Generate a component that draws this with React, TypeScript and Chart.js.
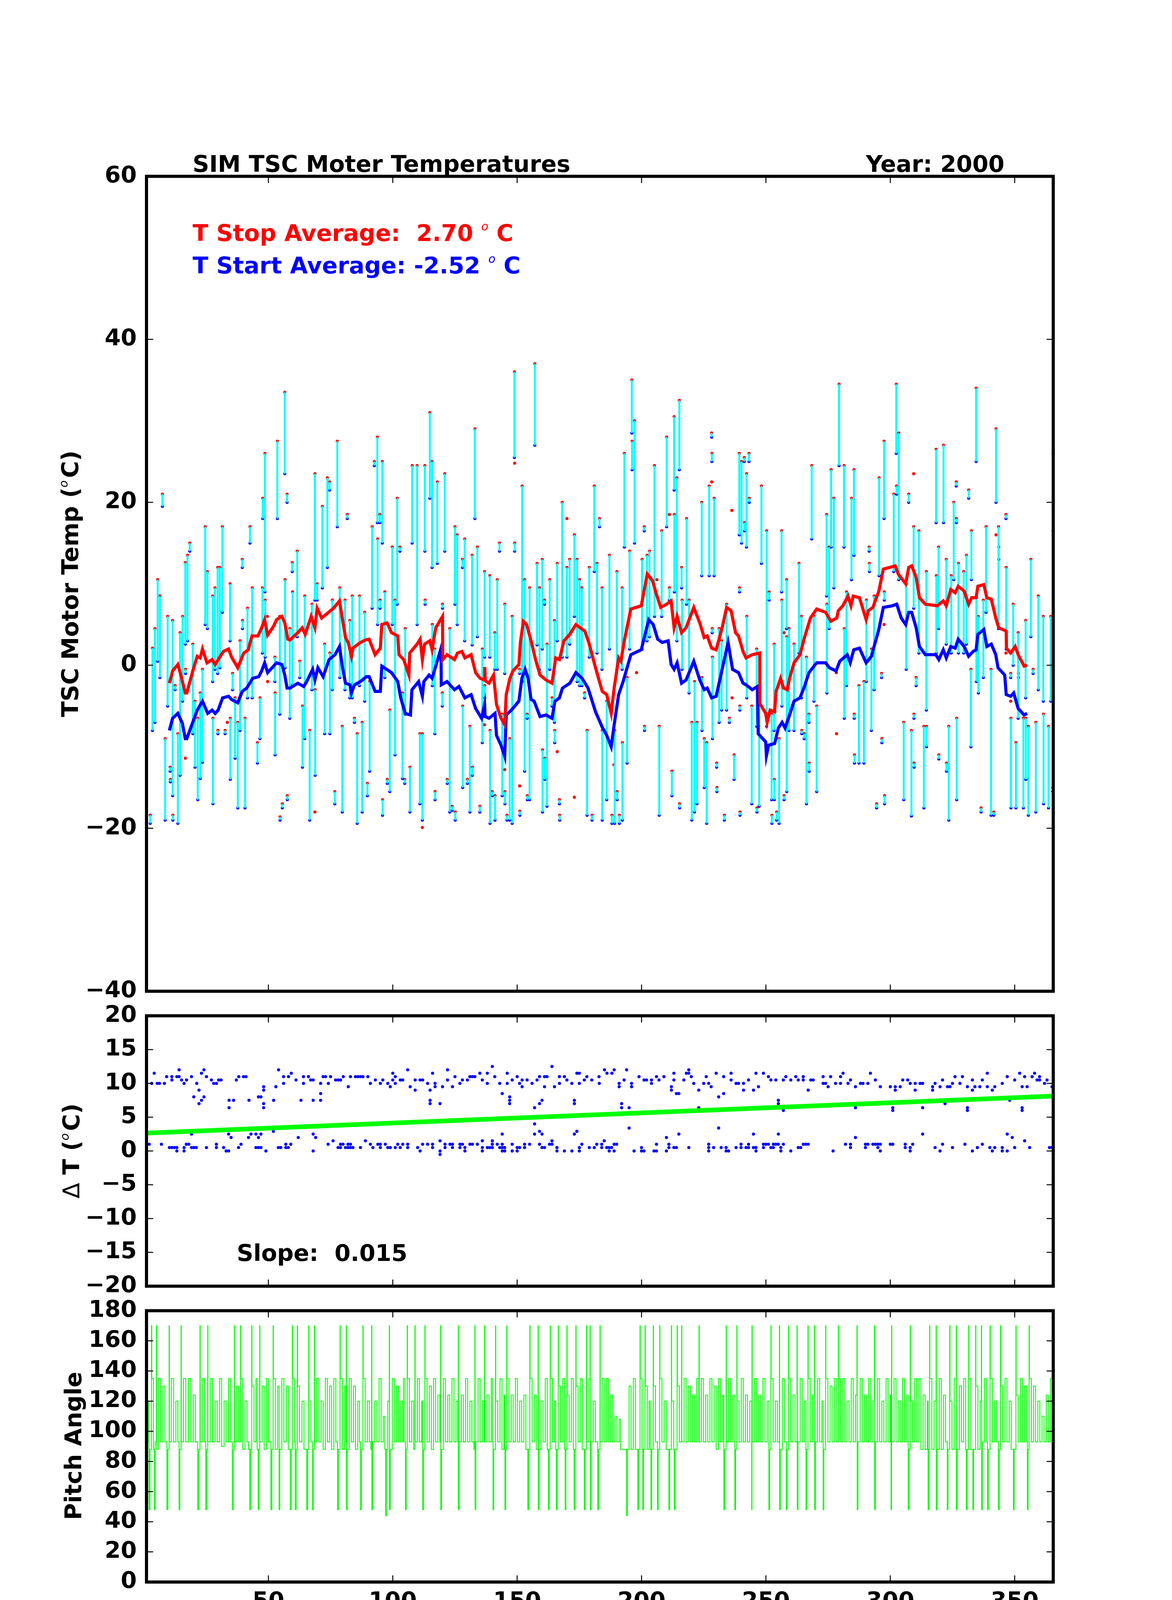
import React, { useEffect, useRef } from "react";
import { Chart, registerables } from "chart.js";

Chart.register(...registerables);

// ---------------- data ----------------
const xTicks = [50, 100, 150, 200, 250, 300, 350];
const tempTicks = [-40, -20, 0, 20, 40, 60];
const dtTicks = [-20, -15, -10, -5, 0, 5, 10, 15, 20];
const pitchTicks = [0, 20, 40, 60, 80, 100, 120, 140, 160, 180];

// [yday, T start, T stop]
const tscSegments: [number, number, number][] = [
  [2.5, -19.4, -18.4], [3.4, -8.0, 2.1], [4.4, -7.0, 4.5], [5.5, 0.5, 10.5], [6.4, -1.5, 8.5],
  [7.4, 19.5, 21.0], [8.5, -19.0, -9.0], [9.5, -5.0, 6.0], [10.5, -13.0, -12.5], [10.6, -14.3, -14.0],
  [11.5, -16.0, 5.5], [11.6, -19.0, -18.4], [12.5, -3.0, -2.5], [13.6, -19.4, -8.4], [14.5, -13.5, 4.0],
  [15.5, -4.4, 6.0], [16.6, 2.6, 12.6], [16.7, -1.0, -0.5], [17.5, 3.0, 13.5], [18.4, 14.0, 15.0],
  [19.6, -8.4, 2.6], [20.5, -12.5, -4.4], [21.6, -16.5, -6.5], [22.6, -13.9, -3.4], [23.5, -11.9, -0.5],
  [24.6, 5.0, 17.0], [25.5, 4.5, 11.5], [27.6, -2.0, 8.5], [27.7, -17.0, -6.5], [28.5, -0.5, 9.5],
  [29.6, -1.0, 12.0], [29.7, -8.4, -8.0], [30.5, -0.3, 12.0], [31.5, 6.5, 17.0], [32.6, -8.4, -8.0],
  [34.6, 3.0, 10.0], [34.7, -14.0, -6.5], [35.6, -3.0, -1.0], [36.6, -11.4, -4.0], [37.7, -17.5, -7.0],
  [38.6, -8.0, 3.0], [39.5, 12.0, 13.0], [39.6, 4.5, 5.5], [40.6, -17.5, -6.5], [41.6, -4.0, 7.0],
  [42.6, 15.0, 17.0], [43.5, -4.0, 9.5], [45.6, -12.0, -9.5], [46.6, -9.0, -4.0], [47.6, 1.5, 9.5],
  [47.7, 18.0, 20.5], [48.6, 9.0, 26.0], [48.7, 1.0, 8.0], [52.6, -2.0, 1.0], [52.7, -11.0, -3.4],
  [53.6, 18.0, 27.5], [54.6, -6.0, 6.0], [54.7, -19.0, -18.6], [55.6, -17.5, -17.0], [56.6, 23.5, 33.5],
  [56.7, -0.3, 10.5], [57.5, 20.0, 21.0], [57.6, -16.5, -16.0], [58.6, -6.5, 4.5], [59.6, 11.5, 12.6],
  [59.7, -2.4, 9.0], [61.6, 3.5, 14.0], [62.6, -1.5, 0.5], [63.7, -12.5, -5.0], [64.6, -9.0, 8.5],
  [66.6, -19.0, -8.0], [67.5, -3.0, 7.5], [68.7, 8.0, 23.5], [68.8, -13.5, -3.0], [69.6, 8.0, 10.0],
  [71.7, 9.5, 19.5], [72.6, -8.4, 2.6], [73.7, 12.0, 23.0], [74.6, 21.5, 22.5], [74.7, -8.4, 1.5],
  [75.7, -3.0, 8.0], [76.7, -17.0, -15.5], [77.7, 17.0, 27.5], [78.7, -1.5, 9.5], [79.7, -18.0, -7.5],
  [80.8, -3.0, 8.0], [81.7, 18.0, 18.5], [82.7, -4.0, 5.5], [83.7, -4.0, 8.5], [84.6, -7.0, -6.5],
  [85.7, -19.4, -8.4], [86.6, -2.5, 8.5], [87.7, -18.0, -7.0], [88.7, -4.4, 6.5], [89.8, -16.0, -14.5],
  [90.7, -13.0, -2.0], [91.7, 7.0, 17.0], [92.6, 24.5, 25.0], [93.8, 17.5, 28.0], [93.9, 5.0, 15.5],
  [94.8, 17.5, 18.5], [94.9, 7.0, 8.0], [95.8, 15.0, 25.0], [95.9, -18.4, -16.5], [96.8, -1.5, 9.0],
  [97.8, -14.5, -14.0], [98.8, -15.5, -5.5], [99.8, 5.0, 14.5], [100.9, -11.0, 8.0], [101.8, 7.5, 20.5],
  [102.9, 14.0, 14.5], [103.9, -13.9, -3.4], [104.8, -14.5, -14.0], [105.0, -6.0, 4.5], [106.9, -18.0, -12.5],
  [107.8, 15.0, 24.5], [109.8, 5.0, 24.5], [110.9, -17.0, -8.4], [111.9, -19.0, -8.4], [112.9, 14.0, 24.5],
  [113.0, 7.5, 8.0], [114.9, 20.5, 31.0], [115.8, 12.0, 25.0], [115.9, -2.5, 5.0], [116.9, -8.4, 2.0],
  [117.0, -16.5, -15.5], [117.9, 12.5, 22.5], [119.9, -5.0, -3.4], [120.0, 7.0, 7.5], [120.9, 14.0, 23.5],
  [121.9, -14.5, -14.0], [122.9, -18.0, 4.5], [123.9, -17.8, -17.3], [125.0, 7.5, 17.0], [125.1, -19.0, -18.0],
  [125.9, 5.0, 16.0], [128.0, 12.0, 13.0], [128.1, -15.0, -5.0], [128.9, 3.0, 15.5], [130.0, -14.5, -14.0],
  [131.0, -18.0, -7.5], [131.9, 2.5, 13.5], [132.0, -13.5, -12.5], [133.0, 18.0, 29.0], [134.0, 3.5, 14.5],
  [135.0, -18.0, -17.3], [136.0, -9.5, 2.0], [136.9, 1.0, 11.5], [137.0, -4.0, -2.5], [139.0, 1.0, 11.0],
  [139.1, -19.4, -8.0], [140.0, -16.0, -15.5], [141.0, -0.5, 4.0], [141.1, -19.0, -16.0], [142.0, -0.5, 10.5],
  [142.9, 14.0, 15.0], [144.0, -16.0, -6.0], [145.0, -1.0, 7.5], [145.1, -17.0, -15.5], [145.9, -19.0, -18.4],
  [147.0, -19.0, -9.0], [148.0, -19.4, 6.0], [148.9, 25.5, 36.0], [149.0, 14.0, 15.0], [151.0, -1.0, -0.5],
  [151.1, -18.4, -17.9], [152.0, -2.0, 22.0], [153.0, -13.0, 10.5], [154.0, -6.5, -6.0], [154.1, -16.5, -16.0],
  [155.0, -16.5, 9.5], [157.1, 27.0, 37.0], [158.0, 2.5, 12.5], [159.0, -0.5, 9.5], [160.1, 2.0, 13.0],
  [160.2, -18.0, -10.4], [161.0, 7.5, 8.0], [161.1, -14.0, -11.4], [162.0, -17.3, 2.6], [163.1, -0.5, 10.5],
  [164.0, -5.0, -4.0], [165.0, -7.0, 5.5], [165.1, -9.5, -8.0], [166.1, 3.0, 12.5], [167.0, -17.0, -16.5],
  [167.1, -19.0, -18.4], [168.1, 1.0, 20.0], [170.0, 1.0, 12.0], [171.1, 2.6, 13.0], [173.0, 6.0, 16.0],
  [174.1, -2.0, 13.0], [175.1, -2.5, 10.5], [176.0, -2.5, 9.5], [177.1, -4.0, -3.4], [178.1, -18.4, -8.0],
  [179.0, 1.0, 12.0], [180.1, -19.0, -18.4], [181.0, 11.5, 22.0], [182.1, 1.5, 12.5], [183.1, 17.0, 18.0],
  [184.1, -0.5, 9.5], [184.2, -19.0, -8.0], [186.0, -16.5, -4.4], [187.1, 2.0, 13.5], [188.1, -19.4, -18.4],
  [189.2, -19.4, -8.0], [190.1, -0.5, 11.5], [190.2, -16.5, -15.5], [191.1, -19.4, -18.4], [192.2, -0.5, 9.5],
  [192.3, -19.0, -9.5], [193.1, 14.5, 26.0], [194.2, -12.0, -1.5], [195.2, 2.0, 14.0], [196.1, 28.5, 35.0],
  [196.2, 24.0, 27.5], [197.2, 15.0, 30.0], [200.2, 2.0, 13.0], [201.1, 16.5, 17.0], [201.2, -8.0, -7.5],
  [202.2, 3.0, 13.5], [203.2, 3.5, 14.0], [205.2, 6.0, 24.5], [207.1, -18.4, -7.5], [208.1, 6.0, 16.5],
  [210.1, 17.0, 28.0], [211.2, 8.0, 9.5], [212.2, -16.0, -13.0], [213.1, 21.5, 30.5], [213.2, 9.0, 18.5],
  [214.2, 3.0, 23.0], [215.2, 24.0, 32.5], [215.3, -17.5, -17.0], [216.1, 9.5, 12.0], [216.3, -0.5, 8.0],
  [218.1, 7.5, 18.0], [219.1, -3.4, 8.0], [220.2, -19.0, -7.0], [221.3, -18.0, -2.0], [222.3, -17.0, -7.0],
  [224.2, 11.0, 20.0], [224.3, -8.0, -1.5], [225.2, -15.0, -9.0], [226.2, -19.4, -9.5], [227.2, 11.0, 22.0],
  [228.2, 28.0, 28.5], [228.3, 25.0, 26.0], [228.4, 4.0, 4.5], [228.5, -9.0, 1.0], [229.2, 11.0, 20.5],
  [230.2, -12.5, -12.0], [230.3, -15.5, -15.0], [231.2, -7.0, 4.5], [232.2, -5.5, 3.0], [233.3, -19.0, -18.4],
  [234.2, -5.5, 7.5], [235.3, -7.0, -6.5], [237.2, -14.0, -11.0], [239.3, 16.0, 26.0], [239.4, 9.0, 9.5],
  [239.5, -5.5, -5.0], [239.6, -18.4, -18.0], [240.2, 15.0, 25.0], [241.3, 25.0, 25.5], [241.4, 16.5, 17.5],
  [242.2, 14.5, 23.5], [242.3, -4.0, 6.0], [243.2, 25.0, 26.0], [243.3, 20.0, 20.5], [244.3, -17.0, -5.0],
  [246.3, -7.5, 2.0], [246.4, -18.0, -17.5], [247.3, -17.3, -4.4], [248.2, 12.5, 22.0], [250.3, -7.5, 16.5],
  [251.3, 8.0, 9.0], [252.3, -16.5, -6.0], [252.4, -19.4, -18.4], [253.3, -8.0, 2.6], [253.4, -16.5, -14.0],
  [254.3, -19.0, -18.0], [255.3, -19.4, -9.0], [256.3, 9.0, 16.5], [256.4, -5.0, 8.0], [257.3, -16.5, -16.0],
  [258.3, 4.5, 10.5], [258.4, -15.5, 3.5], [259.3, -8.0, 4.5], [261.3, -8.0, 2.6], [263.3, 1.5, 12.5],
  [264.3, -4.0, 6.0], [264.4, -8.4, -8.0], [265.4, -9.0, -8.4], [266.3, -17.0, 1.0], [267.3, -7.0, -6.0],
  [267.4, -13.0, -12.0], [268.4, 15.5, 24.5], [269.3, -4.4, 6.0], [270.4, -15.5, -5.0], [274.4, 8.5, 18.5],
  [274.5, -3.4, 7.5], [275.4, 4.5, 14.5], [276.2, 14.5, 24.0], [277.3, 9.5, 20.5], [279.4, 24.5, 34.5],
  [281.4, 14.5, 24.5], [281.5, -6.5, 4.5], [282.4, -2.5, 9.0], [284.4, 10.5, 20.5], [285.4, 13.5, 24.0],
  [285.5, -6.5, -6.0], [285.6, -12.0, -11.0], [287.4, -12.0, -2.5], [289.4, -12.0, -2.0], [290.4, -2.0, 8.0],
  [291.5, 14.0, 14.5], [291.6, 11.5, 12.5], [292.4, -8.0, 2.0], [293.5, -3.0, 8.5], [294.5, -17.5, -17.0],
  [295.5, 11.0, 23.0], [296.5, -1.5, -1.0], [296.6, -9.5, -9.0], [297.5, 18.0, 27.5], [297.6, 8.0, 9.0],
  [297.7, -17.0, -16.0], [301.4, 11.5, 21.0], [302.4, 26.0, 34.5], [302.5, 21.0, 22.0], [303.4, 10.5, 28.5],
  [305.4, -16.5, -7.0], [306.4, -0.5, 10.0], [307.4, 20.0, 21.0], [308.5, -18.5, -8.0], [309.4, 7.0, 17.0],
  [309.5, -6.5, -6.0], [309.6, -12.5, -12.0], [310.4, -2.5, -1.5], [311.5, 1.5, 16.5], [313.5, -17.5, -7.5],
  [314.5, -5.5, 11.5], [314.6, -10.0, -7.5], [318.4, 17.5, 26.5], [318.5, 1.5, 11.0], [319.4, 4.5, 14.5],
  [319.5, -11.5, -11.0], [321.4, 17.5, 27.0], [322.5, 2.6, 13.0], [322.6, -13.0, -12.0], [323.5, -19.0, -7.5],
  [324.5, 1.5, 11.0], [325.5, 10.5, 20.0], [326.5, 22.0, 22.5], [326.6, 17.5, 18.0], [326.7, -16.5, -6.5],
  [327.4, 1.5, 12.5], [329.5, 1.5, 11.5], [330.6, 2.6, 13.5], [331.5, 20.5, 21.5], [332.4, -10.0, -0.5],
  [332.6, 10.5, 16.5], [334.5, 25.0, 34.0], [334.6, -2.0, 8.3], [335.4, -3.4, 6.0], [336.5, -18.0, -17.5],
  [337.4, -1.5, 8.0], [338.5, 6.5, 17.0], [340.5, -18.4, -0.5], [341.6, -18.4, -18.0], [342.5, 20.0, 29.0],
  [343.5, 4.5, 17.0], [343.6, 13.0, 14.5], [346.5, 18.0, 18.5], [346.6, 2.0, 12.0], [348.4, -1.5, -1.0],
  [348.5, -17.5, -6.5], [349.4, 0.0, 7.5], [350.5, -17.5, -9.5], [351.4, -6.5, 4.0], [351.5, -1.5, -1.0],
  [353.5, -17.5, -6.5], [354.4, -4.0, 5.5], [354.5, -14.0, -6.5], [355.5, -18.4, -7.5], [356.5, 3.5, 13.0],
  [357.4, -1.0, -0.5], [358.5, -18.0, -7.0], [359.5, -3.0, 8.5], [361.5, -4.4, 6.0], [361.6, -17.0, -6.0],
  [363.6, -17.5, -7.5], [364.5, -4.4, 6.0], [365.3, -15.5, -15.0], [365.4, 16.5, 26.0],
];

// stop readings without a matching start [yday, T stop]
const stopOnly: [number, number][] = [
  [16.6, -11.4], [33.5, -7.0], [49.6, 6.0], [49.7, -2.0], [68.7, -18.0], [111.9, -19.9],
  [136.9, -7.3], [145.0, -12.8], [149.0, 24.8], [151.0, -14.8], [166.1, -10.6], [170.0, 18.0],
  [173.0, -16.2], [188.9, -12.2], [198.0, -0.9], [206.2, 10.5], [211.2, 18.5], [228.2, 22.5],
  [236.3, 19.0], [236.4, -4.0], [257.3, 4.0], [278.3, -0.9], [278.4, -8.4], [297.5, 5.0],
  [309.4, 23.5], [342.5, 16.0], [346.5, 1.5], [348.4, -4.4],
];

// running averages [yday, value]
const stopAvg: [number, number][] = [
  [10.2, -2.2], [11.5, -0.7], [13.6, 0.1], [14.8, -1.2], [16.6, -3.4], [17.2, -3.4], [19.6, -0.7], [21.4, 1.1],
  [22.6, 0.9], [23.5, 2.0], [25.3, 0.3], [27.4, 0.7], [28.6, 0.1], [31.9, 1.7], [34.0, 2.0], [35.2, 1.0],
  [37.7, -0.3], [40.1, 1.5], [41.9, 1.9], [43.4, 3.6], [45.8, 3.6], [47.3, 4.6], [48.5, 5.6], [49.7, 3.7],
  [52.1, 4.8], [53.3, 5.6], [55.4, 6.0], [56.6, 5.2], [57.8, 3.2], [58.7, 3.1], [61.8, 4.0], [63.6, 4.6],
  [64.8, 3.8], [67.2, 6.0], [68.7, 4.6], [69.6, 7.0], [71.4, 5.8], [73.8, 6.4], [76.2, 7.0], [78.6, 7.9],
  [79.8, 5.6], [81.0, 3.4], [82.2, 2.7], [83.4, 1.1], [84.0, 2.1], [86.5, 2.7], [88.9, 3.1], [90.5, 3.2],
  [92.9, 1.3], [95.0, 2.1], [95.6, 5.0], [97.7, 5.2], [99.5, 4.0], [102.0, 3.6], [102.5, 1.3], [104.4, 0.7],
  [106.5, -1.2], [106.8, 1.5], [109.8, 2.6], [111.0, 3.2], [111.9, 0.7], [112.8, 2.6], [114.9, 3.0], [115.8, 1.9],
  [117.3, 4.6], [120.0, 6.0], [120.1, 0.7], [121.8, 1.3], [124.8, 0.7], [126.0, 1.5], [127.8, 1.7], [129.0, 0.9],
  [131.5, 1.3], [133.3, -0.9], [135.1, -1.6], [136.9, -1.8], [137.0, -0.2], [137.2, -1.9], [138.7, -2.2], [140.5, -1.2],
  [141.7, -4.8], [143.5, -6.5], [145.0, -7.3], [145.6, -3.6], [147.1, -1.6], [148.3, -0.7], [150.7, 0.1], [151.3, 2.8],
  [152.5, 5.4], [153.8, 5.0], [155.6, 3.0], [157.4, 0.7], [159.2, -1.2], [161.6, -1.8], [164.0, -2.2], [165.5, 0.9],
  [167.0, 0.7], [168.8, 3.0], [171.2, 3.8], [173.6, 5.0], [175.4, 4.6], [177.2, 4.2], [179.0, 2.6], [181.5, -0.3],
  [184.2, -3.2], [186.0, -3.6], [187.8, -5.9], [189.0, -2.8], [190.8, 0.9], [191.7, 0.5], [193.2, 3.2], [195.7, 6.9],
  [199.9, 7.3], [202.3, 11.2], [204.4, 10.4], [205.9, 8.8], [207.7, 7.1], [210.1, 7.5], [211.9, 7.9], [213.1, 4.6],
  [214.3, 6.0], [216.1, 4.0], [217.9, 4.6], [221.0, 7.1], [223.4, 5.2], [225.2, 3.4], [226.4, 3.6], [228.2, 2.1],
  [230.0, 1.9], [232.4, 4.6], [234.2, 7.1], [236.0, 6.7], [237.8, 4.0], [239.0, 3.6], [240.8, 1.7], [242.0, 0.9],
  [244.5, 1.3], [247.5, 1.5], [247.6, -4.7], [249.9, -5.9], [250.5, -7.0], [251.7, -5.5], [253.5, -5.7], [254.1, -3.2],
  [255.9, -1.6], [257.1, -2.8], [258.6, -3.0], [259.5, -1.6], [261.3, 0.3], [263.7, 1.3], [265.5, 3.4], [267.9, 5.8],
  [270.4, 6.9], [274.0, 6.5], [276.1, 5.4], [278.5, 5.8], [279.1, 6.7], [280.9, 7.3], [283.0, 8.5], [284.2, 7.3],
  [285.1, 8.5], [287.6, 8.3], [290.3, 5.6], [291.2, 6.7], [293.0, 7.1], [295.4, 9.1], [297.2, 11.8], [299.6, 12.0],
  [302.0, 12.2], [303.2, 11.2], [306.2, 10.0], [307.4, 12.0], [308.6, 12.2], [310.4, 10.8], [311.7, 8.3], [314.1, 7.5],
  [318.9, 7.3], [321.3, 7.9], [322.5, 7.3], [324.3, 9.3], [326.1, 8.9], [327.3, 9.7], [329.7, 9.1], [331.5, 7.5],
  [332.7, 8.3], [334.5, 8.3], [335.2, 9.7], [337.6, 9.9], [338.8, 8.3], [340.6, 8.1], [342.4, 5.8], [343.6, 4.6],
  [346.6, 4.2], [346.7, 2.1], [348.4, 1.5], [350.2, 2.3], [351.4, 1.3], [353.8, -0.1], [355.0, 0.0],
];

const startAvg: [number, number][] = [
  [10.2, -8.0], [11.5, -6.5], [13.6, -5.9], [15.4, -7.1], [16.6, -9.0], [17.2, -9.0], [19.6, -7.0], [21.4, -5.5],
  [23.5, -4.4], [25.6, -5.9], [27.4, -5.5], [28.6, -5.9], [29.8, -5.5], [31.6, -4.0], [34.0, -3.8], [35.2, -4.2],
  [37.7, -4.6], [39.5, -3.2], [41.3, -2.8], [43.7, -1.6], [46.1, -1.4], [47.3, -0.7], [48.5, 0.3], [49.7, -0.9],
  [52.1, -0.1], [53.3, 0.3], [55.4, 0.1], [56.6, -1.2], [57.5, -2.8], [58.7, -2.8], [61.8, -2.2], [64.2, -2.6],
  [65.4, -2.0], [67.8, -0.5], [68.7, -1.8], [69.9, -0.3], [72.0, -1.4], [74.4, 0.7], [76.8, 1.3], [78.6, 2.3],
  [79.8, -0.3], [81.0, -2.2], [82.8, -2.4], [83.4, -3.4], [84.6, -2.4], [87.0, -2.0], [89.4, -1.4], [90.5, -1.4],
  [92.9, -3.2], [95.0, -3.2], [95.6, -0.1], [99.5, -0.9], [102.0, -2.0], [103.2, -4.0], [105.0, -5.9], [107.1, -6.1],
  [107.7, -3.0], [110.4, -2.0], [111.9, -3.8], [112.5, -2.0], [114.6, -1.2], [115.8, -1.6], [117.3, -0.1], [119.4, 2.1],
  [119.5, -2.4], [121.8, -2.0], [124.8, -3.0], [126.6, -2.6], [129.0, -4.0], [131.5, -3.6], [133.3, -5.3], [135.7, -6.5],
  [136.9, -4.8], [137.1, -6.3], [138.7, -6.5], [141.1, -5.9], [141.7, -8.6], [143.5, -9.8], [145.0, -11.2], [145.6, -6.1],
  [147.7, -5.5], [150.7, -4.4], [151.9, -1.6], [153.2, -0.5], [154.4, -1.6], [155.6, -4.2], [156.8, -4.4], [159.2, -6.3],
  [161.6, -6.1], [164.0, -6.5], [165.2, -4.4], [167.0, -4.0], [168.2, -2.8], [171.2, -2.2], [173.6, -0.9], [176.1, -1.6],
  [178.5, -2.8], [181.5, -5.7], [184.2, -7.6], [186.0, -8.6], [187.8, -10.0], [189.0, -7.3], [190.8, -3.6], [192.6, -2.0],
  [195.7, 1.3], [199.9, 1.9], [201.1, 3.4], [202.9, 5.6], [204.7, 5.0], [206.5, 3.2], [208.3, 2.8], [210.7, 3.0],
  [211.9, 0.1], [213.1, -0.5], [214.3, 0.3], [216.1, -2.2], [217.9, -1.8], [221.0, 0.5], [223.4, -1.8], [225.2, -3.0],
  [226.4, -2.8], [228.2, -4.0], [230.0, -3.8], [232.4, -0.5], [234.8, 2.8], [236.6, -0.5], [239.0, -0.9], [240.8, -2.2],
  [242.0, -2.4], [244.5, -3.0], [246.6, -2.6], [246.9, -8.4], [249.9, -9.4], [250.2, -11.1], [251.1, -9.8], [253.5, -9.6],
  [255.0, -7.7], [256.5, -7.0], [257.7, -7.7], [259.5, -6.1], [261.3, -4.4], [263.7, -4.0], [265.5, -2.6], [267.3, -0.9],
  [270.4, 0.3], [274.0, 0.3], [275.5, -0.3], [278.2, -0.7], [279.7, 0.5], [282.7, 1.3], [283.9, 0.3], [285.3, 1.9],
  [287.6, 2.1], [290.3, 0.3], [292.4, 1.1], [295.4, 4.4], [297.2, 7.1], [300.8, 7.3], [302.6, 7.5], [304.4, 5.8],
  [306.2, 5.0], [307.4, 6.5], [308.6, 6.5], [310.4, 4.6], [311.7, 2.3], [314.1, 1.3], [318.3, 1.3], [319.5, 0.7],
  [321.3, 1.9], [322.5, 0.9], [324.3, 2.3], [326.1, 2.1], [327.3, 3.2], [329.7, 2.3], [331.5, 1.1], [333.3, 1.7],
  [334.5, 1.9], [335.2, 3.8], [337.6, 4.4], [338.8, 2.3], [340.6, 2.6], [342.4, 1.3], [343.3, -0.3], [346.0, -1.2],
  [346.6, -3.6], [348.4, -3.8], [349.6, -3.4], [351.4, -5.3], [353.8, -6.1], [355.0, -5.9],
];

// Delta T (stop - start) [yday, value]
const deltaT: [number, number][] = [
  [3.1, 10], [4.1, 11.5], [5.3, 10], [6.2, 10], [8.2, 10], [9.1, 11], [11.2, 11], [11.2, 10.5], [13.2, 11], [14.1, 11],
  [14.1, 12], [15.1, 10.5], [16.1, 10], [17.1, 10.5], [19.1, 11], [20, 8], [21.2, 10], [22.1, 9], [22.1, 7], [23.1, 11.5],
  [23.1, 7.5], [24.1, 12], [24.1, 8], [25.1, 11], [27.1, 10.5], [28, 10], [29.1, 10], [30, 10.5], [31, 10.5], [34.2, 7.5],
  [34.2, 6.4], [36, 7.5], [37.1, 10.5], [38.1, 11], [40, 11], [41, 11], [42.2, 7.5], [46, 8], [47, 8], [48.1, 9.5],
  [48.1, 9], [48.1, 7], [48.1, 6.4], [52.1, 7.5], [53, 9.5], [54.1, 12], [56.1, 11], [56.1, 10], [58.1, 11], [59.2, 11.5],
  [61.1, 10.5], [63.1, 7.5], [64.1, 11], [64.1, 10], [66.1, 11], [67, 10.5], [68, 10.5], [68, 7.5], [71, 10], [71, 8.5],
  [71, 7.5], [72, 11], [73, 11], [74.1, 10], [75, 11], [77, 10.5], [78, 10.5], [79, 10.5], [80.1, 11], [82.1, 9.5],
  [83, 11], [85, 11], [86, 11], [87, 11], [88, 11], [90, 11], [91, 10], [93, 10.5], [95, 10], [96, 10.5],
  [98, 10], [99, 9.5], [100, 11.5], [100, 10.5], [101, 11], [101, 10], [103, 10.5], [104, 10.5], [106, 12], [107, 9.5],
  [109, 10.5], [109, 9], [111, 10.5], [112, 10.5], [114, 10], [115, 9], [115, 7.5], [115, 7], [116, 11.5], [117, 10],
  [117, 9.5], [119, 7], [120, 9.5], [122, 12], [122, 10.5], [124, 9.5], [125, 11], [127, 10], [128, 10.5], [130, 10.5],
  [131, 11], [132, 11], [133, 11], [135, 11.5], [136, 10.5], [138, 11.5], [138, 10], [140, 12.5], [141, 11], [143, 10],
  [144, 8.5], [146, 11.5], [146, 10], [147, 8], [147, 7.5], [147, 7], [148, 10.5], [150, 11], [151, 10], [152, 10.5],
  [152, 9.5], [154, 10.5], [156, 10], [157, 6.4], [158, 10.5], [159, 11], [159, 7], [160, 7.5], [161, 11], [161, 9.5],
  [162, 11], [164, 12.5], [165, 9.5], [167, 11], [167, 10], [169, 11], [170, 10.5], [172, 10], [173, 7.5], [173, 7],
  [174, 11.5], [175, 11.5], [175, 10], [177, 10.5], [178, 11], [180, 10.5],
  [2.1, 1], [7, 1], [10.2, 0.5], [11.2, 0.5], [12.2, 0.5], [13.2, 0.5], [13.2, 0], [16.1, 0.5], [16.1, 0], [17, 1],
  [18, 1], [19.1, 2.5], [19.1, 0.5], [20, 0.5], [21, 0.5], [25.1, 0.5], [29.1, 1], [29.1, 0.5], [32, 0.5], [33, 0],
  [34, 0], [34, 2.5], [35, 2], [38, 0.5], [39, 1], [42, 2], [43, 2.5], [45, 2.5], [47, 2.5], [45, 0.5],
  [46, 0.5], [47, 0.5], [46, 2], [49, 0], [52, 2.9], [54, 0.5], [55, 0.5], [57, 1], [57, 0.5], [58, 0.5],
  [59, 1], [62, 2], [68, 2.5], [69, 2], [68, 0], [74, 1], [76, 1.5], [78, 0.5], [79, 0.5], [79, 1],
  [80, 1], [81, 0.5], [82, 0.5], [83, 0.5], [84, 0.5], [82, 1], [83, 1], [87, 0.5], [89, 1.5], [91, 1],
  [92, 0.5], [94, 1], [95, 1], [95, 0.5], [97, 1], [98, 0.5], [99, 0.5], [101, 0.5], [102, 1], [103, 0.5],
  [104, 1], [106, 1], [106, 0.5], [110, 0.5], [111, 0], [112, 1], [114, 1], [116, 1], [116, 0.5], [119, 1.5],
  [119, 0], [119, -0.5], [121, 1], [121, 0.5], [123, 1], [124, 1], [124, 0.5], [127, 1], [128, 1], [127, 0.5],
  [129, 0.5], [129, 0], [131, 1], [132, 1], [134, 1], [136, 1.5], [136, 0.5], [136, 0], [138, 0.5], [139, 0.5],
  [140, 0.5], [140, 1.5], [140, 1], [142, 1], [143, 0.5], [144, 0.5], [145, 0.5], [144, 1], [144, 0], [145, 0],
  [144, 2.5], [148, 1], [148, 0], [150, 0.5], [150, 0], [151, 0.5], [153, 1], [153, 0.5], [155, 1], [157, 4],
  [157, 2.5], [159, 2.9], [160, 2.5], [159, 1], [160, 0.5], [161, 0.5], [163, 1], [164, 1.5], [164, 1], [166, 0.5],
  [166, 0], [169, 0], [172, 0], [173, 2.5], [174, 2.9], [175, 0.5], [175, 0], [176, 1], [179, 0.5],
  [182.9, 11], [183, 10], [185.1, 12], [186.1, 11.5], [188.1, 11.5], [189, 12], [191, 10], [191, 9.5], [192, 7], [192, 6.4],
  [193, 10.5], [194, 12], [195, 6.4], [196, 10], [196, 9.5], [199, 11], [201, 10.5], [202, 10.5], [204, 10.5], [204, 10],
  [206, 11], [207, 10.5], [209, 11], [212, 9.5], [212, 9], [213, 11.5], [213, 10.5], [214, 8.5], [215, 8.5], [217, 10.5],
  [218, 11.5], [219, 12], [219, 11.5], [220, 11], [221, 10], [223, 9], [223, 6.4], [225, 10], [226, 11], [227, 10],
  [228, 9.5], [230, 11.5], [231, 8], [233, 11], [233, 8.5], [236, 11.5], [236, 10.5], [238, 10], [239, 10], [241, 10],
  [241, 9], [243, 10.5], [245, 9], [246, 11.5], [247, 9.5], [249, 11.5], [251, 11], [252, 10.5], [254, 10.5], [255, 7.5],
  [255, 7], [257, 10.5], [257, 6], [258, 11], [260, 10.5], [262, 11], [263, 10.5], [265, 11], [265, 10.5], [267, 9],
  [268, 10.5], [269, 10.5], [273, 11], [273, 10], [274, 10], [275, 9.5], [276, 11], [278, 10], [280, 11], [280, 10],
  [281, 11.5], [283, 10], [284, 10.5], [286, 9.5], [286, 6.4], [288, 10], [289, 10], [291, 10], [292, 11.5], [294, 10.5],
  [296, 9.5], [300, 9.5], [301, 6.4], [301, 6], [302, 9.5], [302, 9], [304, 9.5], [305, 10.5], [307, 10.5], [308, 10],
  [310, 10], [310, 9], [312, 10], [313, 10], [313, 6.4], [317, 9.5], [317, 9], [318, 10], [320, 9.5], [321, 10.5],
  [322, 7], [323, 9.5], [324, 9.5], [325, 10], [326, 11], [328, 10], [329, 11], [331, 9.5], [331, 6.4], [331, 6],
  [333, 10.5], [333, 9], [334, 9.5], [336, 9.5], [337, 10.5], [339, 9.5], [339, 11.5], [341, 9], [342, 9.5], [345, 10],
  [347, 11], [348, 7.5], [350, 10.5], [352, 11.5], [353, 9.5], [353, 6.4], [353, 6], [354, 11], [355, 9.5], [357, 11],
  [358, 11.5], [359, 10.5], [360, 11], [360, 10.5], [362, 10], [363, 10.5], [365, 9.5],
  [181, 0.5], [182, 1], [184, 1], [184, 0.5], [185, 1.5], [186, 0.5], [187, 0.5], [187, 0], [188, 0.5], [189, 0],
  [189, 1], [190, 1], [195, 3.4], [197, 0], [200, 0.5], [200, 0], [201, 0], [205, 0], [206, 0], [206, 1],
  [210, 2], [210, 0], [211, 1], [211, 0.5], [213, 0.5], [214, 0.5], [215, 2.5], [219, 0.5], [227, 1], [227, 0.5],
  [227, 0], [229, 0.5], [231, 3.4], [232, 0.5], [234, 0.5], [234, 0], [235, 0], [238, 0.5], [240, 1], [240, 0.5],
  [242, 0.5], [243, 0.5], [243, 1], [245, 2.5], [245, 0.5], [246, 0.5], [246, 0], [249, 1], [249, 0.5], [250, 1],
  [251, 1], [252, 0.5], [253, 0.5], [253, 1], [254, 1], [255, 1], [255, 2.5], [256, 0.5], [256, 0], [257, 1],
  [260, 0], [263, 0.5], [264, 0.5], [265, 1], [266, 1], [267, 1], [277, 0], [282, 1], [284, 1], [284, 0.5],
  [286, 2], [290, 1], [290, 0.5], [291, 1], [293, 1], [294, 1], [295, 1], [296, 1], [295, 0.5], [296, 0],
  [300, 1], [301, 1], [306, 1], [306, 0.5], [308, 0.5], [308, 0], [309, 1], [313, 2.5], [318, 0.5], [320, 0],
  [321, 1], [325, 0.5], [330, 1], [333, 0], [335, 0.5], [337, 1], [340, 0.5], [341, 0], [342, 0.5], [345, 0.5],
  [345, 0], [347, 2.5], [347, 0], [349, 2], [350, 0.5], [354, 1.5], [356, 0.5], [364, 0.5], [365, 0.5],
];

// linear fit of Delta T (slope 0.015)
const fitDays = [1, 365.5];
const fitValues = [2.65, 8.12];

// pitch angle change points [yday, angle]; each value holds until the next point
const pitchSteps: [number, number][] = [
  [1.0, 120], [1.8, 93], [2.0, 48], [2.4, 88], [3.0, 170], [3.1, 135], [3.8, 88], [4.2, 48], [4.5, 93], [5.0, 170],
  [5.1, 88], [5.8, 135], [6.7, 93], [7.6, 130], [8.4, 93], [9.2, 48], [9.6, 88], [10.1, 170], [10.2, 93], [11.0, 135],
  [11.9, 93], [12.8, 120], [13.6, 93], [14.1, 48], [14.4, 88], [14.9, 170], [15.0, 93], [15.9, 135], [16.8, 93], [17.9, 135],
  [18.8, 93], [19.8, 124], [20.6, 93], [21.6, 48], [22.0, 88], [22.5, 170], [22.6, 93], [23.4, 135], [24.3, 93], [24.8, 48],
  [25.2, 88], [25.6, 170], [25.7, 93], [26.6, 135], [27.5, 93], [28.6, 120], [29.4, 93], [30.4, 135], [31.2, 90], [32.2, 120],
  [33.0, 93], [34.0, 135], [34.8, 93], [35.5, 48], [35.9, 88], [36.3, 170], [36.4, 93], [37.2, 130], [38.0, 93], [38.8, 170],
  [38.9, 135], [39.7, 88], [40.6, 120], [41.4, 93], [42.0, 88], [42.5, 48], [42.9, 88], [43.3, 170], [43.4, 130], [44.2, 93],
  [45.0, 135], [45.5, 88], [45.9, 48], [46.2, 88], [46.5, 170], [46.6, 93], [47.5, 130], [48.3, 88], [49.2, 135], [50.0, 93],
  [51.0, 48], [51.4, 88], [51.9, 170], [52.0, 135], [52.8, 88], [53.7, 130], [54.3, 48], [54.6, 88], [55.4, 135], [56.2, 93],
  [57.2, 130], [58.0, 88], [58.8, 48], [59.2, 88], [59.6, 170], [59.7, 135], [60.4, 93], [60.8, 48], [61.2, 88], [61.6, 170],
  [61.7, 130], [62.5, 93], [63.5, 120], [64.3, 88], [65.4, 48], [65.8, 88], [66.2, 170], [66.3, 120], [67.1, 93], [67.7, 48],
  [68.1, 88], [68.5, 170], [68.6, 93], [69.4, 135], [70.3, 93], [71.2, 120], [72.0, 88], [72.9, 135], [73.7, 93], [74.6, 130],
  [75.4, 88], [76.3, 135], [77.1, 93], [77.8, 48], [78.2, 88], [78.8, 170], [78.9, 135], [79.7, 88], [80.6, 130], [81.1, 93],
  [81.3, 170], [81.4, 48], [81.7, 88], [82.5, 135], [83.3, 93], [84.2, 130], [85.0, 88], [85.9, 120], [86.6, 93], [87.0, 48],
  [87.4, 88], [88.0, 170], [88.1, 135], [88.9, 93], [89.8, 120], [90.6, 93], [91.2, 88], [91.5, 170], [91.6, 48], [91.9, 93],
  [92.8, 120], [93.6, 93], [94.5, 135], [95.3, 93], [96.2, 110], [96.8, 88], [97.1, 44], [97.5, 88], [98.0, 120], [98.6, 170],
  [98.7, 48], [99.0, 88], [99.8, 135], [100.6, 93], [101.5, 130], [102.3, 93], [103.2, 120], [104.0, 93], [104.3, 135], [104.9, 93],
  [105.1, 48], [105.4, 88], [105.8, 170], [105.9, 135], [106.7, 93], [107.6, 120], [108.4, 88], [108.9, 170], [109.0, 93], [109.9, 135],
  [110.7, 93], [111.6, 120], [112.0, 48], [112.4, 88], [112.9, 170], [113.0, 135], [113.8, 93], [114.7, 130], [115.5, 88], [116.4, 135],
  [117.2, 93], [118.1, 124], [118.9, 93], [119.2, 170], [119.3, 48], [119.6, 88], [120.4, 135], [121.2, 93], [122.1, 124], [122.9, 93],
  [123.8, 135], [124.6, 93], [125.4, 120], [126.1, 93], [126.3, 170], [126.4, 48], [126.7, 93], [127.6, 124], [128.4, 93], [129.3, 135],
  [130.1, 93], [131.0, 120], [131.8, 93], [132.6, 88], [133.0, 170], [133.1, 48], [133.4, 93], [134.3, 135], [135.1, 93], [136.0, 120],
  [136.7, 93], [136.9, 170], [137.0, 93], [137.9, 124], [138.7, 93], [139.6, 135], [140.1, 93], [140.3, 48], [140.6, 88], [141.3, 170],
  [141.4, 120], [142.2, 93], [143.1, 135], [143.9, 88], [144.7, 124], [145.1, 48], [145.4, 88], [145.8, 170], [145.9, 135], [146.7, 93],
  [147.6, 124], [148.4, 93], [149.3, 135], [150.1, 93], [151.0, 120], [151.8, 93], [152.7, 124], [153.5, 88], [154.3, 48], [154.6, 88],
  [155.1, 170], [155.2, 135], [156.0, 93], [156.9, 124], [157.7, 88], [158.4, 170], [158.5, 48], [158.8, 88], [159.6, 120], [160.4, 93],
  [161.3, 135], [162.1, 88], [162.6, 48], [162.9, 88], [163.3, 170], [163.4, 135], [164.2, 93], [165.0, 120], [165.5, 88], [165.8, 48],
  [166.1, 88], [166.5, 170], [166.6, 130], [167.4, 93], [168.3, 135], [169.0, 88], [169.3, 48], [169.6, 88], [170.0, 170], [170.1, 124],
  [170.9, 93], [171.8, 135], [172.6, 88], [172.9, 48], [173.2, 88], [173.6, 170], [173.7, 130], [174.5, 93], [175.4, 135], [176.2, 88],
  [177.0, 48], [177.3, 88], [177.9, 170], [178.0, 93], [178.8, 135], [179.3, 170], [179.4, 48], [179.7, 93], [180.6, 120], [181.4, 93],
  [182.4, 48], [182.7, 88], [183.3, 170], [183.4, 93], [184.2, 135], [185.0, 93], [185.9, 135], [186.7, 93], [187.6, 124], [188.4, 93],
  [189.3, 110], [190.1, 93], [191.0, 108], [191.6, 88], [194.0, 44], [194.3, 88], [195.0, 130], [195.8, 88], [196.7, 135], [197.5, 88],
  [198.5, 48], [198.8, 88], [199.4, 170], [199.5, 135], [200.2, 88], [200.5, 48], [200.8, 88], [201.4, 170], [201.5, 130], [202.3, 88],
  [203.0, 120], [203.5, 88], [203.8, 48], [204.1, 88], [204.7, 170], [204.8, 130], [205.6, 93], [206.4, 48], [206.7, 88], [207.3, 170],
  [207.4, 135], [208.2, 93], [209.1, 120], [209.9, 88], [211.0, 48], [211.3, 88], [212.0, 170], [212.1, 120], [212.9, 88], [213.2, 48],
  [213.5, 88], [214.3, 170], [214.4, 130], [215.2, 93], [216.1, 170], [216.2, 93], [217.1, 135], [217.9, 93], [218.8, 130], [219.6, 93],
  [220.5, 124], [221.3, 93], [222.2, 135], [223.0, 93], [223.1, 170], [223.2, 93], [224.1, 135], [224.9, 93], [225.8, 124], [226.6, 93],
  [227.5, 135], [228.3, 93], [229.2, 130], [230.0, 88], [230.9, 135], [231.7, 93], [232.6, 124], [233.1, 48], [233.4, 88], [234.0, 170],
  [234.1, 93], [235.0, 135], [235.8, 93], [236.7, 124], [237.5, 48], [237.8, 88], [238.3, 170], [238.4, 120], [239.2, 93], [240.1, 135],
  [240.9, 93], [241.8, 124], [242.6, 93], [243.5, 120], [244.3, 48], [244.4, 170], [244.5, 93], [245.4, 135], [246.2, 93], [247.1, 124],
  [247.9, 93], [248.8, 135], [249.6, 93], [250.5, 120], [251.2, 48], [251.5, 88], [252.0, 170], [252.1, 135], [252.9, 93], [253.8, 120],
  [254.6, 93], [255.4, 170], [255.5, 48], [255.8, 88], [256.6, 135], [257.4, 93], [258.2, 48], [258.5, 88], [259.1, 170], [259.2, 135],
  [260.0, 93], [260.9, 124], [261.7, 93], [262.5, 170], [262.6, 48], [262.9, 93], [263.8, 135], [264.6, 93], [265.5, 120], [266.1, 48],
  [266.4, 88], [266.9, 170], [267.0, 135], [267.8, 93], [268.7, 124], [269.5, 170], [269.6, 48], [269.9, 93], [270.8, 135], [271.6, 93],
  [272.5, 120], [273.0, 48], [273.3, 88], [274.0, 170], [274.1, 135], [274.9, 93], [275.8, 130], [276.6, 93], [277.5, 135], [278.3, 93],
  [279.1, 170], [279.2, 135], [280.0, 93], [280.9, 135], [281.7, 93], [282.6, 120], [283.4, 93], [284.3, 135], [285.1, 93], [286.0, 124],
  [286.6, 170], [286.7, 48], [287.0, 93], [287.9, 135], [288.7, 93], [289.6, 124], [290.4, 93], [291.3, 135], [292.1, 93], [293.0, 120],
  [293.6, 170], [293.7, 48], [294.0, 93], [294.9, 135], [295.7, 93], [296.6, 120], [297.4, 93], [298.3, 135], [299.1, 93], [300.0, 124],
  [300.3, 48], [300.5, 170], [300.6, 93], [301.5, 135], [302.3, 93], [303.2, 120], [304.0, 93], [304.9, 135], [305.7, 93], [306.6, 124],
  [307.2, 48], [307.5, 88], [308.0, 170], [308.1, 120], [308.9, 93], [309.8, 135], [310.6, 93], [311.5, 135], [312.3, 88], [313.2, 124],
  [314.0, 88], [314.9, 120], [315.2, 48], [315.5, 88], [315.8, 170], [315.9, 135], [316.7, 88], [317.6, 120], [318.4, 170], [318.5, 48],
  [318.8, 88], [319.7, 135], [320.5, 88], [321.4, 124], [322.2, 93], [322.9, 48], [323.2, 88], [323.9, 170], [324.0, 120], [324.8, 88],
  [325.7, 135], [326.5, 170], [326.6, 48], [326.9, 88], [327.8, 130], [328.6, 93], [329.5, 135], [330.3, 88], [330.6, 48], [330.9, 88],
  [331.5, 170], [331.6, 135], [332.4, 88], [333.2, 48], [333.5, 88], [334.3, 170], [334.4, 130], [335.2, 88], [336.1, 120], [336.6, 170],
  [336.7, 48], [337.0, 93], [337.9, 135], [338.7, 93], [339.1, 48], [339.4, 88], [340.1, 170], [340.2, 135], [341.0, 93], [341.9, 120],
  [342.7, 93], [343.5, 48], [343.8, 88], [344.3, 170], [344.4, 130], [345.2, 93], [346.1, 135], [346.9, 93], [347.8, 120], [348.6, 88],
  [349.5, 48], [349.8, 88], [350.5, 170], [350.6, 124], [351.4, 93], [352.3, 135], [353.1, 93], [354.0, 130], [354.8, 93], [355.1, 48],
  [355.4, 88], [355.8, 170], [355.9, 135], [356.7, 93], [357.6, 130], [358.4, 93], [359.3, 120], [360.1, 93], [361.0, 110], [361.8, 93],
  [362.7, 124], [363.5, 93], [364.4, 135], [365.2, 93],
];

// ---------------- layout ----------------
const PAGE_W = 3000;
const PAGE_H = 4500;
const X_MIN = 1;
const X_MAX = 365.5;
const PLOT_LEFT = 375;
const PLOT_RIGHT = 2696;
const PAD = 50;
const PANELS = [
  { top: 449, bottom: 2540, xArea: 0 },
  { top: 2598, bottom: 3295, xArea: 0 },
  { top: 3353, bottom: 4050, xArea: 110 },
];
const FONT_FAMILY = "'DejaVu Sans', sans-serif";
const TICK_FONT = { family: "'DejaVu Sans'", size: 59, weight: "bold" as const };
const TICK_LEN = 17;

const minusFmt = (v: any) => (Number(v) < 0 ? "\u2212" + Math.abs(Number(v)) : String(v));

function framePlugin(yTicks: number[]) {
  return {
    id: "innerFrame",
    afterDatasetsDraw(chart: any) {
      const { ctx, chartArea } = chart;
      const { left, right, top, bottom } = chartArea;
      const xs = chart.scales.x;
      const ys = chart.scales.y;
      ctx.save();
      ctx.strokeStyle = "#000";
      ctx.lineWidth = 2.5;
      ctx.beginPath();
      for (const v of xTicks) {
        const p = xs.getPixelForValue(v);
        ctx.moveTo(p, bottom);
        ctx.lineTo(p, bottom - TICK_LEN);
        ctx.moveTo(p, top);
        ctx.lineTo(p, top + TICK_LEN);
      }
      for (const v of yTicks) {
        const p = ys.getPixelForValue(v);
        ctx.moveTo(left, p);
        ctx.lineTo(left + TICK_LEN, p);
        ctx.moveTo(right, p);
        ctx.lineTo(right - TICK_LEN, p);
      }
      ctx.stroke();
      ctx.lineWidth = 8;
      ctx.strokeRect(left, top, right - left, bottom - top);
      ctx.restore();
    },
  };
}

function makeOptions(yMin: number, yMax: number, yTicks: number[], showX: boolean, xArea: number) {
  return {
    responsive: false,
    maintainAspectRatio: false,
    animation: false,
    devicePixelRatio: 1,
    events: [],
    layout: { padding: { top: PAD, bottom: showX ? 10 : PAD, left: 0, right: PAGE_W - PLOT_RIGHT } },
    plugins: { legend: { display: false }, tooltip: { enabled: false }, title: { display: false } },
    scales: {
      x: {
        type: "linear",
        min: X_MIN,
        max: X_MAX,
        grid: { display: false },
        border: { display: false },
        ticks: { display: showX, autoSkip: false, maxRotation: 0, padding: 8, color: "#000", font: TICK_FONT },
        afterBuildTicks: (s: any) => {
          s.ticks = xTicks.map((v) => ({ value: v }));
        },
        afterFit: (s: any) => {
          s.height = xArea;
        },
      },
      y: {
        type: "linear",
        min: yMin,
        max: yMax,
        grid: { display: false },
        border: { display: false },
        ticks: { autoSkip: false, padding: 17, color: "#000", font: TICK_FONT, callback: minusFmt },
        afterBuildTicks: (s: any) => {
          s.ticks = yTicks.map((v) => ({ value: v }));
        },
        afterFit: (s: any) => {
          s.width = PLOT_LEFT;
        },
      },
    },
  };
}

function canvasHeight(i: number) {
  const p = PANELS[i];
  return p.bottom - p.top + PAD + (p.xArea ? p.xArea + 10 : PAD);
}

export default function App() {
  const ref1 = useRef<HTMLCanvasElement>(null);
  const ref2 = useRef<HTMLCanvasElement>(null);
  const ref3 = useRef<HTMLCanvasElement>(null);

  useEffect(() => {
    document.body.style.margin = "0";
    const charts: Chart[] = [];

    // ---- panel 1: temperatures ----
    const segData: any[] = [];
    for (const [d, s, e] of tscSegments) {
      segData.push({ x: d, y: s }, { x: d, y: e }, { x: d, y: null });
    }
    const startPts = tscSegments.map(([d, s]) => ({ x: d, y: s }));
    const stopPts = tscSegments
      .map(([d, , e]) => ({ x: d, y: e }))
      .concat(stopOnly.map(([d, e]) => ({ x: d, y: e })));

    charts.push(
      new Chart(ref1.current as HTMLCanvasElement, {
        type: "line",
        data: {
          datasets: [
            { data: stopAvg.map(([x, y]) => ({ x, y })), borderColor: "#ff0000", borderWidth: 8, pointRadius: 0, order: 0 },
            { data: startAvg.map(([x, y]) => ({ x, y })), borderColor: "#0000ff", borderWidth: 8, pointRadius: 0, order: 0 },
            { data: segData, borderColor: "#00ffff", borderWidth: 5, pointRadius: 0, spanGaps: false, borderCapStyle: "butt", order: 2 },
            { data: startPts, showLine: false, pointRadius: 4, pointBackgroundColor: "#0000ff", pointBorderWidth: 0, order: 3 },
            { data: stopPts, showLine: false, pointRadius: 4, pointBackgroundColor: "#ff0000", pointBorderWidth: 0, order: 3 },
          ] as any,
        },
        options: makeOptions(-40, 60, tempTicks, false, 0) as any,
        plugins: [framePlugin(tempTicks)],
      })
    );

    // ---- panel 2: delta T ----
    charts.push(
      new Chart(ref2.current as HTMLCanvasElement, {
        type: "line",
        data: {
          datasets: [
            {
              data: fitDays.map((x, i) => ({ x, y: fitValues[i] })),
              borderColor: "#00ff00",
              borderWidth: 12,
              pointRadius: 0,
              order: 0,
            },
            {
              data: deltaT.map(([x, y]) => ({ x, y })),
              showLine: false,
              pointRadius: 4,
              pointBackgroundColor: "#0000ff",
              pointBorderWidth: 0,
              order: 1,
            },
          ] as any,
        },
        options: makeOptions(-20, 20, dtTicks, false, 0) as any,
        plugins: [framePlugin(dtTicks)],
      })
    );

    // ---- panel 3: pitch ----
    const pitchData = pitchSteps.map(([x, y]) => ({ x, y }));
    pitchData.push({ x: X_MAX, y: pitchSteps[pitchSteps.length - 1][1] });
    charts.push(
      new Chart(ref3.current as HTMLCanvasElement, {
        type: "line",
        data: {
          datasets: [
            {
              data: pitchData,
              borderColor: "#00ff00",
              borderWidth: 2.2,
              pointRadius: 0,
              stepped: true,
            },
          ] as any,
        },
        options: makeOptions(0, 180, pitchTicks, true, PANELS[2].xArea) as any,
        plugins: [framePlugin(pitchTicks)],
      })
    );

    return () => {
      charts.forEach((c) => c.destroy());
    };
  }, []);

  const canvasStyle = (i: number): React.CSSProperties => ({
    position: "absolute",
    left: 0,
    top: PANELS[i].top - PAD,
    width: PAGE_W,
    height: canvasHeight(i),
  });

  const sup = (dy: number) => (
    <tspan dy={-dy} fontStyle="italic" fontWeight="normal" fontSize={30}>
      o
    </tspan>
  );

  const mid = (i: number) => (PANELS[i].top + PANELS[i].bottom) / 2;

  return (
    <div style={{ position: "absolute", left: 0, top: 0, width: PAGE_W, height: PAGE_H, background: "#fff" }}>
      <canvas ref={ref1} width={PAGE_W} height={canvasHeight(0)} style={canvasStyle(0)} />
      <canvas ref={ref2} width={PAGE_W} height={canvasHeight(1)} style={canvasStyle(1)} />
      <canvas ref={ref3} width={PAGE_W} height={canvasHeight(2)} style={canvasStyle(2)} />
      <svg
        width={PAGE_W}
        height={PAGE_H}
        style={{ position: "absolute", left: 0, top: 0, pointerEvents: "none", whiteSpace: "pre" }}
        fontFamily={FONT_FAMILY}
        fontWeight="bold"
        fontSize={59}
      >
        <text x={493} y={440}>SIM TSC Moter Temperatures</text>
        <text x={2571} y={440} textAnchor="end">Year: 2000</text>
        <text x={493} y={617} fill="#ff0000" xmlSpace="preserve">
          {"T Stop Average:  2.70 "}
          {sup(27)}
          <tspan dy={27}>{" C"}</tspan>
        </text>
        <text x={493} y={700} fill="#0000ff" xmlSpace="preserve">
          {"T Start Average: -2.52 "}
          {sup(27)}
          <tspan dy={27}>{" C"}</tspan>
        </text>
        <text x={606} y={3228} xmlSpace="preserve">{"Slope:  0.015"}</text>
        <text x={(PLOT_LEFT + PLOT_RIGHT) / 2} y={4190} textAnchor="middle">Time (yday)</text>
        <text transform={`translate(200,${mid(0)}) rotate(-90)`} textAnchor="middle" xmlSpace="preserve">
          {"TSC Motor Temp ("}
          {sup(27)}
          <tspan dy={27} dx={6}>{"C)"}</tspan>
        </text>
        <text transform={`translate(203,${mid(1)}) rotate(-90)`} textAnchor="middle" xmlSpace="preserve">
          <tspan fontWeight="normal">{"\u0394"}</tspan>
          {" T ("}
          {sup(27)}
          <tspan dy={27} dx={6}>{"C)"}</tspan>
        </text>
        <text transform={`translate(208,${mid(2)}) rotate(-90)`} textAnchor="middle">Pitch Angle</text>
      </svg>
    </div>
  );
}
